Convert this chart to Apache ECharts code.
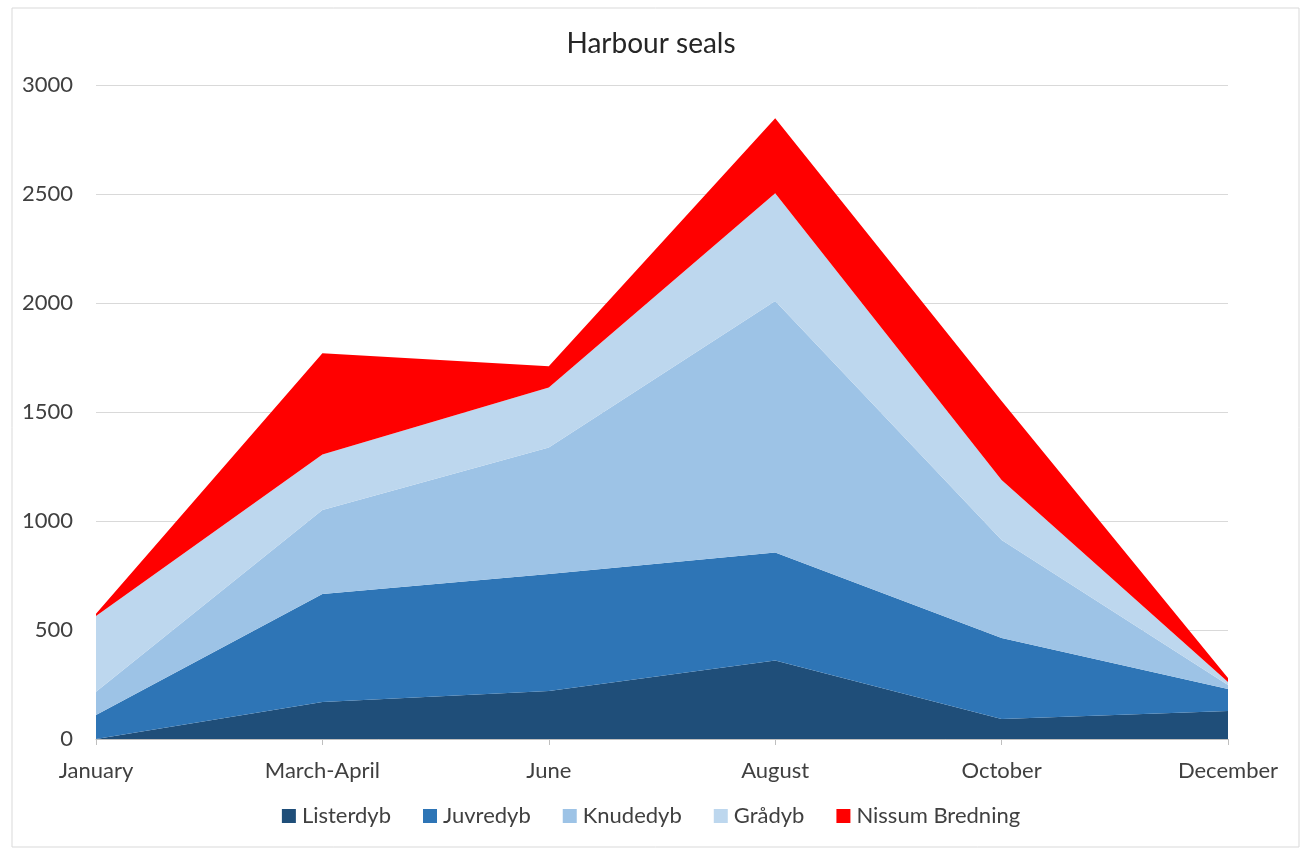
<!DOCTYPE html>
<html>
<head>
<meta charset="utf-8">
<title>Harbour seals</title>
<script src="https://cdn.jsdelivr.net/npm/echarts@6/dist/echarts.min.js"></script>
<style>
    html, body { margin: 0; padding: 0; background: #fff; }
    #chart { width: 1302px; height: 848px; }
</style>
</head>
<body>
<div id="chart"></div>
<script>
// periods and counts per area (stacked)
const periods = ['January', 'March-April', 'June', 'August', 'October', 'December'];
const listerdyb = [0, 170, 220, 360, 92, 128];
const juvredyb = [110, 495, 537, 495, 371, 101];
const knudedyb = [107, 385, 580, 1154, 450, 19];
const gradyb = [347, 255, 275, 494, 275, 13];
const nissum = [11, 465, 98, 344, 362, 19];
const yTicks = [0, 500, 1000, 1500, 2000, 2500, 3000];

const labelFont = 'Lato, "Open Sans", sans-serif';
const textColor = '#404040';

function area(name, data, color) {
    return {
        name: name,
        type: 'line',
        stack: 'seals',
        data: data,
        symbol: 'none',
        lineStyle: { width: 0 },
        areaStyle: { color: color, opacity: 1 },
        itemStyle: { color: color },
        emphasis: { disabled: true },
    };
}

function getOption() {
    return {
        animation: false,
        textStyle: { fontFamily: labelFont },
        title: {
            text: 'Harbour seals',
            left: 'center',
            top: 25,
            textStyle: { fontFamily: labelFont, fontSize: 28, fontWeight: 'normal', color: '#262626' },
        },
        graphic: [{
            type: 'rect',
            shape: { x: 12, y: 8, width: 1287, height: 839 },
            style: { fill: 'none', stroke: '#d9d9d9', lineWidth: 1 },
            silent: true,
        }],
        grid: { left: 96, right: 74, top: 85, bottom: 109 },
        legend: {
            bottom: 16,
            left: 'center',
            itemWidth: 14,
            itemHeight: 14,
            itemGap: 32,
            icon: 'rect',
            textStyle: { fontFamily: labelFont, fontSize: 22, color: textColor, padding: [0, 0, 0, 1] },
            data: ['Listerdyb', 'Juvredyb', 'Knudedyb', 'Grådyb', 'Nissum Bredning'],
        },
        xAxis: {
            type: 'category',
            data: periods,
            boundaryGap: false,
            axisLine: { lineStyle: { color: '#bfbfbf', width: 1 } },
            axisTick: { show: true, length: 6, lineStyle: { color: '#bfbfbf' } },
            axisLabel: { fontFamily: labelFont, fontSize: 22, color: textColor, margin: 21 },
        },
        yAxis: {
            type: 'value',
            min: yTicks[0],
            max: yTicks[yTicks.length - 1],
            interval: 500,
            axisLine: { show: false },
            axisTick: { show: false },
            splitLine: { lineStyle: { color: '#d9d9d9', width: 1 } },
            axisLabel: {
                fontFamily: labelFont, fontSize: 22, color: textColor, margin: 23,
                formatter: (v) => String(v),
            },
        },
        series: [
            area('Listerdyb', listerdyb, '#1f4e79'),
            area('Juvredyb', juvredyb, '#2e75b6'),
            area('Knudedyb', knudedyb, '#9dc3e6'),
            area('Grådyb', gradyb, '#bdd7ee'),
            area('Nissum Bredning', nissum, '#ff0000'),
        ],
    };
}

let myChart = echarts.init(document.getElementById('chart'));
myChart.setOption(getOption());
</script>
</body>
</html>
